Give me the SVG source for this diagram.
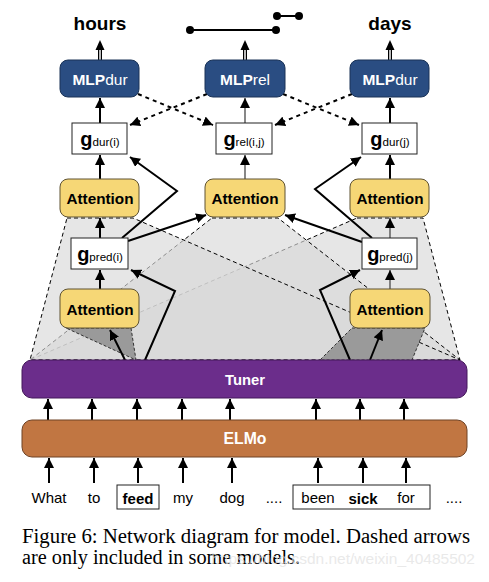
<svg xmlns="http://www.w3.org/2000/svg" width="489" height="582" viewBox="0 0 489 582">
<style>
.t{font-family:"Liberation Sans",Arial,sans-serif}
.b{font-weight:bold}
.reg{fill:#d9d9d9;fill-opacity:.65;stroke:#000;stroke-width:1;stroke-dasharray:4,3}
.dark{fill:#9a9a9a;stroke:#333;stroke-width:1;stroke-dasharray:3,2}
.mlp{fill:#2a4d82;stroke:#1a3357;stroke-width:1}
.att{fill:#f6d776;stroke:#5e5233;stroke-width:1}
.gb{fill:#fff;stroke:#222;stroke-width:1}
.ar{fill:none;stroke:#000;stroke-width:2;marker-end:url(#ah)}
.thin{fill:none;stroke:#555;stroke-width:1.4;marker-end:url(#ah)}
.da{fill:none;stroke:#000;stroke-width:2;stroke-dasharray:4,4;marker-end:url(#ah)}
.wt{font-size:15px;text-anchor:middle}
.cap{font-family:"Liberation Serif","Times New Roman",serif;font-size:20px}
</style>
<defs>
<marker id="ah" markerUnits="userSpaceOnUse" markerWidth="11" markerHeight="10" refX="10" refY="5" orient="auto">
<path d="M0,0 L10,5 L0,10 z" fill="#000"/>
</marker>
</defs>
<rect width="489" height="582" fill="#fff"/>

<g id="attention-regions">
<polygon class="reg" points="357,218 423,218 460,360 30,360"/>
<polygon class="reg" points="212,218 278,218 460,360 30,360"/>
<polygon class="reg" points="67,218 133,218 460,360 30,360"/>
<polygon class="dark" points="66,328 131,328 136,360"/>
<polygon class="dark" points="352,328 425,328 412,360 320,360"/>
</g>

<g id="connectors">
<path class="ar" d="M122,238 L177,191 L130,157"/>
<path class="ar" d="M128,241 L206,215"/>
<path class="ar" d="M145,360 L175,291 L131,270"/>
<path class="ar" d="M125,360 L110,330"/>
<path class="ar" d="M370,360 L382,330"/>
<path class="ar" d="M350,360 L320,290 L360,270"/>
<path class="ar" d="M362,242 L285,215"/>
<path class="ar" d="M372,238 L315,189 L361,157"/>
<path class="ar" d="M100,238 V218"/>
<path class="ar" d="M100,289 V270"/>
<path class="ar" d="M100,179 V155"/>
<path class="ar" d="M100,123 V98"/>
<path class="thin" d="M390,289 V270"/>
<path class="thin" d="M390,238 V218"/>
<path class="ar" d="M390,179 V155"/>
<path class="ar" d="M390,123 V98"/>
<path class="thin" d="M245,179 V155"/>
<path class="thin" d="M245,123 V98"/>
<path class="da" d="M138,94 L213,125"/>
<path class="da" d="M207,94 L130,125"/>
<path class="da" d="M283,94 L359,125"/>
<path class="da" d="M352,94 L275,125"/>
<g id="out-arrows">
<line x1="100" y1="60" x2="100" y2="49" stroke="#000" stroke-width="4"/>
<line x1="100" y1="60" x2="100" y2="49" stroke="#bbb" stroke-width="2"/>
<polygon points="95.5,50 104.5,50 100,40" fill="#000"/>
<line x1="245" y1="60" x2="245" y2="49" stroke="#000" stroke-width="4"/>
<line x1="245" y1="60" x2="245" y2="49" stroke="#bbb" stroke-width="2"/>
<polygon points="240.5,50 249.5,50 245,40" fill="#000"/>
<line x1="390" y1="60" x2="390" y2="49" stroke="#000" stroke-width="4"/>
<line x1="390" y1="60" x2="390" y2="49" stroke="#bbb" stroke-width="2"/>
<polygon points="385.5,50 394.5,50 390,40" fill="#000"/>
</g>
<g id="elmo-tuner-arrows">
<path class="ar" d="M48,420 V399"/>
<path class="ar" d="M92,420 V399"/>
<path class="ar" d="M137,420 V399"/>
<path class="ar" d="M182,420 V399"/>
<path class="ar" d="M230,420 V399"/>
<path class="ar" d="M316,420 V399"/>
<path class="ar" d="M360,420 V399"/>
<path class="ar" d="M404,420 V399"/>
</g>
<g id="word-arrows">
<path class="ar" d="M49,483 V458"/>
<path class="ar" d="M94,483 V458"/>
<path class="ar" d="M138,483 V458"/>
<path class="ar" d="M183,483 V458"/>
<path class="ar" d="M232,483 V458"/>
<path class="ar" d="M318,483 V458"/>
<path class="ar" d="M363,483 V458"/>
<path class="ar" d="M406,483 V458"/>
</g>
</g>

<g id="out-hours"><text class="t b" x="100" y="30" font-size="19" text-anchor="middle">hours</text></g>
<g id="out-days"><text class="t b" x="390" y="30" font-size="19" text-anchor="middle">days</text></g>
<g id="out-timeline">
<line x1="190" y1="30" x2="276" y2="30" stroke="#000" stroke-width="2"/>
<circle cx="190" cy="30" r="4"/><circle cx="276" cy="30" r="4"/>
<line x1="277" y1="16" x2="299" y2="16" stroke="#000" stroke-width="2"/>
<circle cx="277" cy="16" r="4"/><circle cx="299" cy="16" r="4"/>
</g>

<g id="mlp-dur-i"><rect class="mlp" x="60" y="60" width="79" height="37" rx="8"/>
<text class="t" x="100" y="85" font-size="15.5" fill="#fff" text-anchor="middle"><tspan font-weight="bold">MLP</tspan>dur</text></g>
<g id="mlp-rel"><rect class="mlp" x="205" y="60" width="80" height="37" rx="8"/>
<text class="t" x="245" y="85" font-size="15.5" fill="#fff" text-anchor="middle"><tspan font-weight="bold">MLP</tspan>rel</text></g>
<g id="mlp-dur-j"><rect class="mlp" x="350" y="60" width="79" height="37" rx="8"/>
<text class="t" x="390" y="85" font-size="15.5" fill="#fff" text-anchor="middle"><tspan font-weight="bold">MLP</tspan>dur</text></g>

<g id="g-dur-i"><rect class="gb" x="72" y="123" width="55" height="31"/>
<text class="t" x="100" y="146" text-anchor="middle"><tspan font-size="20" font-weight="bold">g</tspan><tspan font-size="11.6">dur(i)</tspan></text></g>
<g id="g-rel"><rect class="gb" x="216" y="123" width="56" height="31"/>
<text class="t" x="244" y="146" text-anchor="middle"><tspan font-size="20" font-weight="bold">g</tspan><tspan font-size="11.6">rel(i,j)</tspan></text></g>
<g id="g-dur-j"><rect class="gb" x="362" y="123" width="55" height="31"/>
<text class="t" x="390" y="146" text-anchor="middle"><tspan font-size="20" font-weight="bold">g</tspan><tspan font-size="11.6">dur(j)</tspan></text></g>

<g id="att-dur-i"><rect class="att" x="60" y="179" width="79" height="38" rx="8"/>
<text class="t b" x="100" y="204" font-size="15.3" text-anchor="middle">Attention</text></g>
<g id="att-rel"><rect class="att" x="205" y="179" width="80" height="38" rx="8"/>
<text class="t b" x="245" y="204" font-size="15.3" text-anchor="middle">Attention</text></g>
<g id="att-dur-j"><rect class="att" x="350" y="179" width="79" height="38" rx="8"/>
<text class="t b" x="390" y="204" font-size="15.3" text-anchor="middle">Attention</text></g>

<g id="g-pred-i"><rect class="gb" x="71" y="238" width="57" height="31"/>
<text class="t" x="100" y="261" text-anchor="middle"><tspan font-size="20" font-weight="bold">g</tspan><tspan font-size="11.6">pred(i)</tspan></text></g>
<g id="g-pred-j"><rect class="gb" x="362" y="238" width="55" height="31"/>
<text class="t" x="390" y="261" text-anchor="middle"><tspan font-size="20" font-weight="bold">g</tspan><tspan font-size="11.6">pred(j)</tspan></text></g>

<g id="att-pred-i"><rect class="att" x="60" y="289" width="79" height="39" rx="8"/>
<text class="t b" x="100" y="315" font-size="15.3" text-anchor="middle">Attention</text></g>
<g id="att-pred-j"><rect class="att" x="350" y="289" width="80" height="39" rx="8"/>
<text class="t b" x="390" y="315" font-size="15.3" text-anchor="middle">Attention</text></g>

<g id="tuner"><rect x="22" y="360" width="445" height="38" rx="10" fill="#6b2d8b" stroke="#44195a" stroke-width="1"/>
<text class="t b" x="245" y="385" font-size="14.8" fill="#fff" text-anchor="middle">Tuner</text></g>
<g id="elmo"><rect x="22" y="420" width="445" height="37" rx="10" fill="#c17642" stroke="#6e4225" stroke-width="1"/>
<text class="t b" x="245" y="444" font-size="15.8" fill="#fff" text-anchor="middle">ELMo</text></g>

<g id="words">
<text class="t wt" x="49" y="503">What</text>
<text class="t wt" x="94" y="503">to</text>
<rect x="117" y="485" width="42" height="24" fill="none" stroke="#222" stroke-width="1"/>
<text class="t wt b" x="138" y="504">feed</text>
<text class="t wt" x="183" y="503">my</text>
<text class="t wt" x="232" y="503">dog</text>
<text class="t wt" x="274" y="503">....</text>
<rect x="293" y="485" width="137" height="24" fill="none" stroke="#222" stroke-width="1"/>
<text class="t wt" x="318" y="503">been</text>
<text class="t wt b" x="363" y="504">sick</text>
<text class="t wt" x="406" y="503">for</text>
<text class="t wt" x="454" y="503">....</text>
</g>

<g id="caption">
<text class="cap" x="22" y="543" textLength="448" lengthAdjust="spacingAndGlyphs">Figure 6: Network diagram for model. Dashed arrows</text>
<text class="cap" x="22" y="564" textLength="278" lengthAdjust="spacingAndGlyphs">are only included in some models.</text>
<text class="t" x="475" y="564" font-size="15.5" text-anchor="end" fill="#e2e2e2" fill-opacity="0.75">https://blog.csdn.net/weixin_40485502</text>
</g>
</svg>
